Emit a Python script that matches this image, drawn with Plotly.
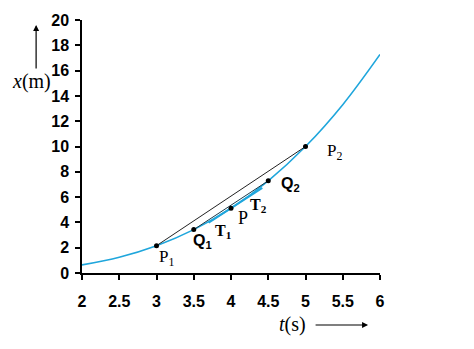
import plotly.graph_objects as go

# Curve x(t)
t_vals = [2, 2.5, 3, 3.5, 4, 4.5, 5, 5.5, 6]
x_vals = [0.64, 1.25, 2.16, 3.43, 5.12, 7.29, 10.0, 13.31, 17.28]

# Marked points
pt_names = ["P1", "Q1", "P", "Q2", "P2"]
pt_t = [3, 3.5, 4, 4.5, 5]
pt_x = [2.16, 3.43, 5.12, 7.29, 10.0]

# Tangent at P (segment)
tan_t = [3.7, 4.42]
tan_x = [3.97, 6.73]

x_ticks = [2, 2.5, 3, 3.5, 4, 4.5, 5, 5.5, 6]
x_ticktext = ["2", "2.5", "3", "3.5", "4", "4.5", "5", "5.5", "6"]
y_ticks = [0, 2, 4, 6, 8, 10, 12, 14, 16, 18, 20]

BLUE = "#1fa6dc"
fig = go.Figure()
fig.add_trace(go.Scatter(x=t_vals, y=x_vals, mode="lines", line=dict(color=BLUE, width=1.6, shape="spline"),
                         hoverinfo="skip"))
# chord P1-P2
fig.add_trace(go.Scatter(x=[pt_t[0], pt_t[4]], y=[pt_x[0], pt_x[4]], mode="lines",
                         line=dict(color="#222222", width=1)))
# chord Q1-Q2
fig.add_trace(go.Scatter(x=[pt_t[1], pt_t[3]], y=[pt_x[1], pt_x[3]], mode="lines",
                         line=dict(color="#1a3a4a", width=1)))
# tangent at P
fig.add_trace(go.Scatter(x=tan_t, y=tan_x, mode="lines", line=dict(color=BLUE, width=2)))
fig.add_trace(go.Scatter(x=pt_t, y=pt_x, mode="markers", marker=dict(color="black", size=5)))

serif = "Liberation Serif, Times New Roman, serif"
sans = "Liberation Sans, Arial, sans-serif"
labels = [
    (0, "P<sub>1</sub>", 10, -12, serif, 17),
    (1, "<b>Q<sub>1</sub></b>", 9, -12, sans, 16),
    (1, "<b>T<sub>1</sub></b>", 30, -2, serif, 16),
    (2, "P", 12, -10, serif, 18),
    (2, "<b>T<sub>2</sub></b>", 27, 3, serif, 16),
    (3, "<b>Q<sub>2</sub></b>", 22, -4, sans, 16),
    (4, "P<sub>2</sub>", 29, -5, serif, 17),
]
for i, txt, xs, ys, fam, sz in labels:
    fig.add_annotation(x=pt_t[i], y=pt_x[i], text=txt, showarrow=False, xshift=xs, yshift=ys,
                       xanchor="center", yanchor="middle",
                       font=dict(family=fam, size=sz, color="black"))

# axis titles with arrows
fig.add_annotation(xref="paper", yref="paper", x=-0.171, y=0.755, text="<i>x</i>(m)", showarrow=False,
                   xanchor="center", yanchor="middle",
                   font=dict(family=serif, size=20, color="black"))
fig.add_annotation(xref="paper", yref="paper", x=-0.154, y=0.98, text="", showarrow=True,
                   ax=0, ay=45, arrowhead=2, arrowsize=1, arrowwidth=1.2, arrowcolor="black")
fig.add_annotation(xref="paper", yref="paper", x=0.708, y=-0.2055, text="<i>t</i>(s)", showarrow=False,
                   xanchor="center", yanchor="middle",
                   font=dict(family=serif, size=20, color="black"))
fig.add_annotation(xref="paper", yref="paper", x=0.960, y=-0.2055, text="", showarrow=True,
                   ax=-54, ay=0, arrowhead=2, arrowsize=1, arrowwidth=1.2, arrowcolor="black")

fig.update_layout(
    width=474, height=349, margin=dict(l=82, r=94, t=20, b=76),
    paper_bgcolor="white", plot_bgcolor="white", showlegend=False,
    xaxis=dict(range=[2, 6], tickvals=x_ticks, ticktext=x_ticktext, showgrid=False, zeroline=False,
               showline=True, linecolor="black", linewidth=1.5, ticks="outside", ticklen=5,
               tickcolor="black", tickwidth=1.5, ticklabelstandoff=8,
               tickfont=dict(family=sans, size=16, color="black", weight="bold")),
    yaxis=dict(range=[0, 20], tickvals=y_ticks, showgrid=False, zeroline=False,
               showline=True, linecolor="black", linewidth=1.5, ticks="outside", ticklen=5,
               tickcolor="black", tickwidth=1.5, ticklabelstandoff=3,
               tickfont=dict(family=sans, size=16, color="black", weight="bold")),
)
fig.write_html("out.html")
